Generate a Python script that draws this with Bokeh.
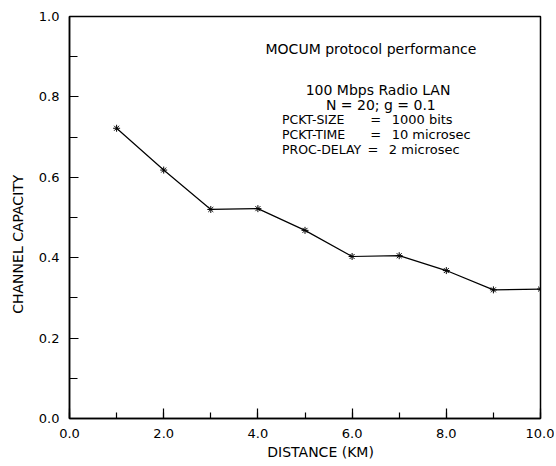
from bokeh.plotting import figure
from bokeh.models import Range1d, SingleIntervalTicker, PrintfTickFormatter, Label
from bokeh.embed import file_html
from bokeh.resources import INLINE

# Data
distance_km = [1, 2, 3, 4, 5, 6, 7, 8, 9, 10]
channel_capacity = [0.722, 0.618, 0.520, 0.522, 0.468, 0.403, 0.405, 0.368, 0.320, 0.322]

x_title = "DISTANCE (KM)"
y_title = "CHANNEL CAPACITY"
title_lines = ["MOCUM protocol performance", "100 Mbps Radio LAN", "N = 20; g = 0.1"]
param_names = ["PCKT-SIZE", "PCKT-TIME", "PROC-DELAY"]
param_values = ["1000 bits", "10 microsec", "2 microsec"]

FONT = "DejaVu Sans"
NB = "\u00a0"

p = figure(width=554, height=462, output_backend="svg", toolbar_location=None,
           x_range=Range1d(0, 10), y_range=Range1d(0, 1),
           min_border_left=69, min_border_right=14, min_border_top=16, min_border_bottom=44)
p.background_fill_color = "white"
p.border_fill_color = "white"
p.outline_line_color = "black"
p.outline_line_width = 1.5
p.xgrid.visible = False
p.ygrid.visible = False

p.xaxis.ticker = SingleIntervalTicker(interval=2, num_minor_ticks=2)
p.yaxis.ticker = SingleIntervalTicker(interval=0.2, num_minor_ticks=2)
p.xaxis.formatter = PrintfTickFormatter(format="%.1f")
p.yaxis.formatter = PrintfTickFormatter(format="%.1f")
for ax in (p.xaxis, p.yaxis):
    ax.axis_line_color = "black"
    ax.axis_line_width = 1.5
    ax.major_tick_line_color = "black"
    ax.minor_tick_line_color = "black"
    ax.major_tick_line_width = 1.2
    ax.minor_tick_line_width = 1.2
    ax.major_tick_out = 0
    ax.minor_tick_out = 0
    ax.major_label_text_font = FONT
    ax.major_label_text_font_size = "13px"
    ax.major_label_text_color = "black"
    ax.major_label_standoff = 10
    ax.axis_label_text_font = FONT
    ax.axis_label_text_font_size = "14px"
    ax.axis_label_text_font_style = "normal"
    ax.axis_label_text_color = "black"
p.xaxis.major_tick_in = 10
p.xaxis.minor_tick_in = 6
p.yaxis.major_tick_in = 9
p.yaxis.minor_tick_in = 8

p.xaxis.axis_label = NB * 7 + x_title
p.xaxis.axis_label_standoff = 3
p.yaxis.axis_label = y_title + NB * 12
p.yaxis.axis_label_standoff = 10

p.line(distance_km, channel_capacity, line_color="black", line_width=1.2)
p.scatter(distance_km, channel_capacity, marker="asterisk", size=7,
          line_color="black", line_width=1.0)

def add_label(x, y, text, align="center", size="14px"):
    p.add_layout(Label(x=x, y=y, text=text, text_font=FONT, text_font_size=size,
                       text_color="black", text_align=align, text_baseline="middle"))

# annotation block
title_x = [6.40, 6.55, 6.61]
title_y = [0.918, 0.816, 0.779]
for tx, ty, t in zip(title_x, title_y, title_lines):
    add_label(tx, ty, t)
param_y = [0.744, 0.706, 0.669]
eq_x = [6.50, 6.50, 6.44]
val_x = [6.84, 6.84, 6.78]
for py, n, ex, vx, v in zip(param_y, param_names, eq_x, val_x, param_values):
    add_label(4.51, py, n, align="left", size="12.5px")
    add_label(ex, py, "=", align="center", size="13px")
    add_label(vx, py, v, align="left", size="13px")

open("out.html", "w").write(file_html(p, INLINE))
